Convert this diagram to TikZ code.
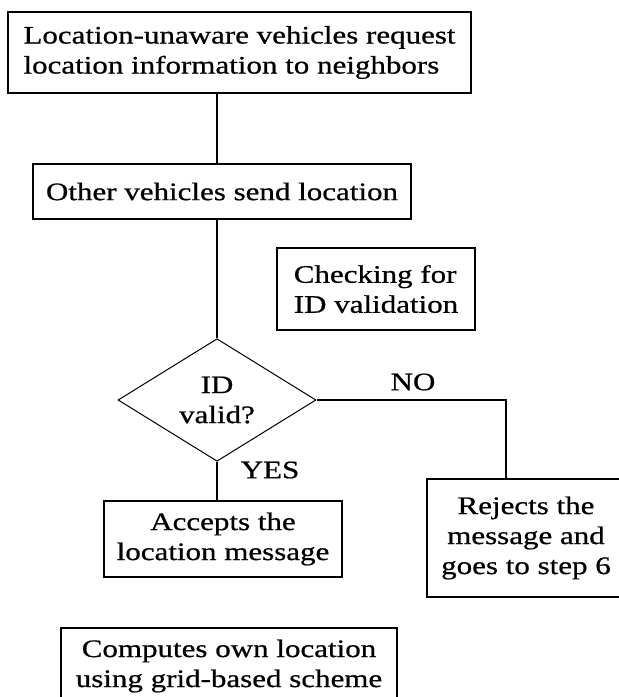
\documentclass[tikz,border=0pt]{standalone}
\usepackage{fontspec}
\setmainfont[FakeStretch=1.23, FakeBold=0.7]{Liberation Serif}
\usetikzlibrary{shapes.geometric}

\begin{document}
\begin{tikzpicture}[x=1pt, y=-1pt, line width=1.2pt, font=\fontsize{25.2}{30}\selectfont, box/.style = {draw, rectangle, align=center, inner sep=0pt}, dec/.style = {draw, diamond, align=center, inner sep=0pt, line width=1pt}]
		\useasboundingbox (0,0) rectangle (619,697);
		\clip (0,0) rectangle (619,697);
		\node[box, align=left, minimum width=463pt, minimum height=81pt] (req) at (239.5,52.5) {Location-unaware vehicles request\\location information to neighbors};
		\node[box, minimum width=378pt, minimum height=55pt] (send) at (222,191.5) {Other vehicles send location};
		\node[box, align=left, minimum width=198pt, minimum height=82pt] (check) at (376,289) {Checking for\\ID validation};
		\node[dec, minimum width=198pt, minimum height=97pt] (valid) at (217,400) {ID\\valid?};
		\node (no) at (413,382) {NO};
		\node (yes) at (270,470) {YES};
		\node[box, minimum width=238pt, minimum height=76pt] (acc) at (223,539) {Accepts the\\location message};
		\node[box, minimum width=198pt, minimum height=118pt] (rej) at (526,538) {Rejects the\\message and\\goes to step 6};
		\node[box, minimum width=336pt, minimum height=76pt] (comp) at (229,666) {Computes own location\\using grid-based scheme};
		\coordinate (turn) at (506,400);
		\draw (valid.north |- req.south) -- (valid.north |- send.north);
		\draw (valid.north |- send.south) -- (valid.north);
		\draw (valid.south) -- (valid.south |- acc.north);
		\draw (valid.east) -- (turn) -- (turn |- rej.north);
	\end{tikzpicture}
\end{document}
